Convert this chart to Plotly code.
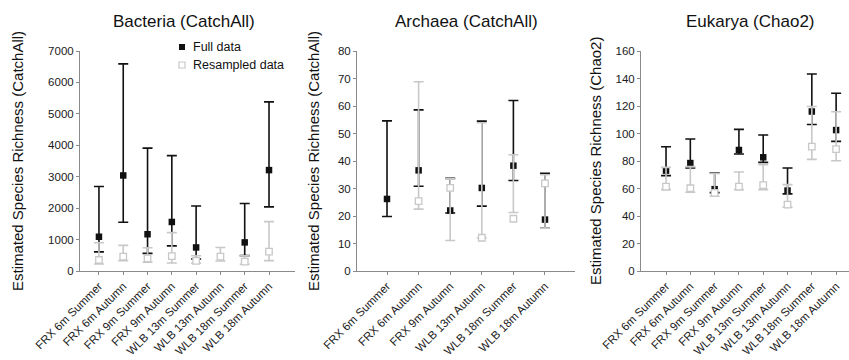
import plotly.graph_objects as go

W, H = 849, 360

# ---------------- data ----------------
bact_cats = ["FRX 6m Summer", "FRX 6m Autumn", "FRX 9m Summer", "FRX 9m Autumn",
             "WLB 13m Summer", "WLB 13m Autumn", "WLB 18m Summer", "WLB 18m Autumn"]
arch_cats = ["FRX 6m Summer", "FRX 6m Autumn", "FRX 9m Autumn",
             "WLB 13m Autumn", "WLB 18m Summer", "WLB 18m Autumn"]
euk_cats = bact_cats

bact_full = [1090, 3040, 1170, 1560, 750, None, 910, 3210]
bact_full_hi = [2690, 6590, 3910, 3670, 2070, None, 2150, 5380]
bact_full_lo = [610, 1550, 560, 800, 380, None, 490, 2040]
bact_res = [350, 460, 400, 475, 320, 455, 300, 615]
bact_res_hi = [900, 815, 740, 1220, 485, 750, 480, 1570]
bact_res_lo = [225, 330, 280, 255, 245, 320, 215, 330]

arch_full = [26.2, 36.6, 22.0, 30.2, 38.3, 18.7]
arch_full_hi = [54.6, 58.6, 33.7, 54.5, 62.0, 35.5]
arch_full_lo = [19.8, 30.8, 21.1, 23.6, 32.9, 15.6]
arch_res = [None, 25.4, 30.2, 12.1, 19.0, 31.9]
arch_res_hi = [None, 68.8, 33.5, 53.9, 42.3, 35.0]
arch_res_lo = [None, 22.5, 11.1, 12.0, 21.3, 15.6]

euk_full = [73.0, 78.5, 59.5, 88.0, 82.7, 58.5, 116.0, 102.5]
euk_full_hi = [90.4, 96.0, 71.5, 103.0, 98.9, 74.9, 143.3, 129.3]
euk_full_lo = [69.4, 74.9, 57.0, 85.1, 79.0, 56.1, 106.6, 94.3]
euk_res = [61.4, 60.2, 56.8, 61.4, 62.4, 48.3, 90.4, 88.7]
euk_res_hi = [75.4, 75.9, 71.0, 72.0, 77.3, 62.8, 119.6, 115.8]
euk_res_lo = [59.2, 57.3, 54.4, 59.2, 59.2, 46.4, 81.2, 80.2]

panel_titles = ["Bacteria (CatchAll)", "Archaea (CatchAll)", "Eukarya (Chao2)"]
y_titles = ["Estimated Species Richness (CatchAll)",
            "Estimated Species Richness (CatchAll)",
            "Estimated Species Richness (Chao2)"]
legend_labels = ["Full data", "Resampled data"]

# ---------------- styling ----------------
FONT = "Liberation Sans, Arial, sans-serif"
BLACK = "#111111"
GRAY = "#c8c8c8"
AX = "#8a8a8a"

def px_x(p):
    return p / W

def px_y(p):
    return 1 - p / H

fig = go.Figure()

panels = [
    (bact_cats, bact_full, bact_full_hi, bact_full_lo, bact_res, bact_res_hi, bact_res_lo),
    (arch_cats, arch_full, arch_full_hi, arch_full_lo, arch_res, arch_res_hi, arch_res_lo),
    (euk_cats, euk_full, euk_full_hi, euk_full_lo, euk_res, euk_res_hi, euk_res_lo),
]

def up(hi, m):
    return [None if (h is None or v is None) else h - v for h, v in zip(hi, m)]

def down(m, lo):
    return [None if (v is None or l is None) else v - l for v, l in zip(m, lo)]

for i, (cats, f, fh, fl, r, rh, rl) in enumerate(panels):
    xa = "x" if i == 0 else f"x{i+1}"
    ya = "y" if i == 0 else f"y{i+1}"
    fig.add_trace(go.Scatter(
        x=cats, y=f, mode="markers", xaxis=xa, yaxis=ya, showlegend=False,
        marker=dict(symbol="square", size=6.5, color=BLACK),
        error_y=dict(type="data", symmetric=False, array=up(fh, f),
                     arrayminus=down(f, fl),
                     color=BLACK, thickness=1.6, width=5),
    ))
    fig.add_trace(go.Scatter(
        x=cats, y=r, mode="markers", xaxis=xa, yaxis=ya, showlegend=False,
        marker=dict(symbol="square", size=6.5, color="white",
                    line=dict(color=GRAY, width=1.3)),
        error_y=dict(type="data", symmetric=False, array=up(rh, r),
                     arrayminus=down(r, rl),
                     color=GRAY, thickness=1.6, width=5),
    ))

domains = [(80, 295), (357, 575), (641, 849)]
xranges = [[-0.78, 8.07], [-0.95, 5.95], [-1.03, 7.53]]
yranges = [[0, 7000], [0, 80], [0, 160]]
dticks = [1000, 10, 20]
title_cx = [184, 466, 750]
ytitle_cx = [17, 313, 595]

y0, y1 = px_y(271), px_y(51)

for i in range(3):
    sx = "" if i == 0 else str(i + 1)
    fig.update_layout(**{
        f"xaxis{sx}": dict(
            domain=[px_x(domains[i][0]), px_x(domains[i][1])],
            anchor=f"y{sx}", range=xranges[i], showgrid=False, zeroline=False,
            showline=True, linecolor=AX, linewidth=1, ticks="outside",
            ticklen=3, tickcolor=AX, tickangle=-45, automargin=False,
            tickfont=dict(family=FONT, size=11.5, color="#222222"),
            fixedrange=True,
        ),
        f"yaxis{sx}": dict(
            domain=[y0, y1], anchor=f"x{sx}", range=yranges[i], dtick=dticks[i],
            showgrid=False, zeroline=False, showline=True, linecolor=AX,
            linewidth=1, ticks="outside", ticklen=3, tickcolor=AX,
            automargin=False,
            tickfont=dict(family=FONT, size=11.5, color="#1a1a1a"),
            fixedrange=True,
        ),
    })
    fig.add_annotation(text=panel_titles[i], xref="paper", yref="paper",
                       x=px_x(title_cx[i]), y=px_y(21), showarrow=False,
                       xanchor="center", yanchor="middle",
                       font=dict(family=FONT, size=17, color="#111111"))
    fig.add_annotation(text=y_titles[i], xref="paper", yref="paper",
                       x=px_x(ytitle_cx[i]), y=px_y(161), showarrow=False,
                       xanchor="center", yanchor="middle", textangle=-90,
                       font=dict(family=FONT, size=15, color="#111111"))

# legend (manual)
leg_y = [47, 65]
for j, lab in enumerate(legend_labels):
    cy = leg_y[j]
    if j == 0:
        fig.add_shape(type="rect", xref="paper", yref="paper",
                      x0=px_x(179), x1=px_x(185), y0=px_y(cy + 3), y1=px_y(cy - 3),
                      fillcolor=BLACK, line=dict(width=0))
    else:
        fig.add_shape(type="rect", xref="paper", yref="paper",
                      x0=px_x(179), x1=px_x(185), y0=px_y(cy + 3), y1=px_y(cy - 3),
                      fillcolor="white", line=dict(color=GRAY, width=1.2))
    fig.add_annotation(text=lab, xref="paper", yref="paper",
                       x=px_x(191), y=px_y(cy), showarrow=False,
                       xanchor="left", yanchor="middle",
                       font=dict(family=FONT, size=12.5, color="#111111"))

fig.update_layout(
    width=W, height=H, margin=dict(l=0, r=0, t=0, b=0, autoexpand=False),
    paper_bgcolor="white", plot_bgcolor="white", showlegend=False,
)

fig.write_html("out.html",
               config={"displayModeBar": False},
               post_script="document.body.style.margin='0px';document.body.style.overflow='hidden';")
